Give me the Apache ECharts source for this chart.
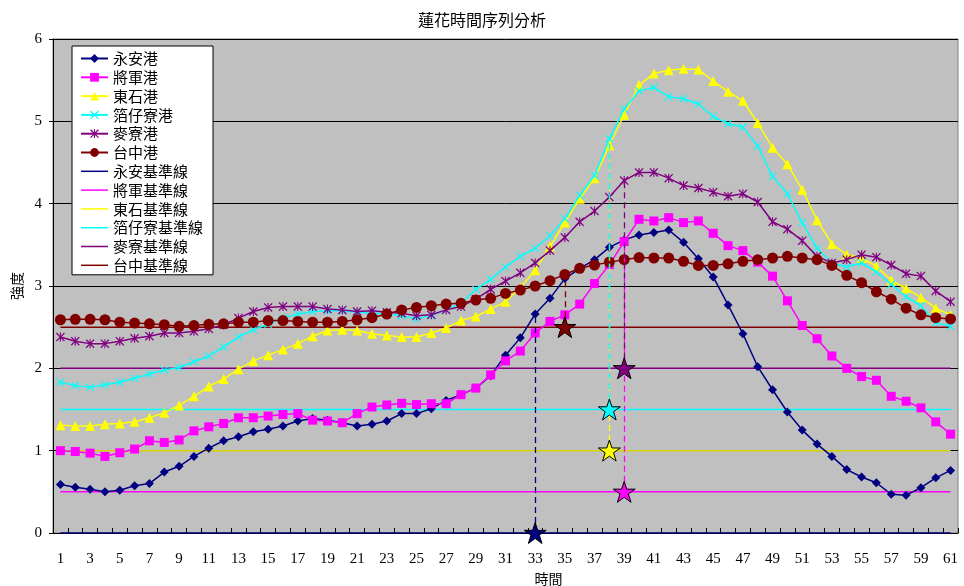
<!DOCTYPE html>
<html>
<head>
<meta charset="utf-8">
<script src="https://cdn.jsdelivr.net/npm/echarts@6/dist/echarts.min.js"></script>
<style>
  html, body { margin: 0; padding: 0; background: #fff; }
  #chart { width: 964px; height: 586px; }
</style>
</head>
<body>
<div id="chart"></div>
<script>
// Time points 1..61
var categories = ['1','2','3','4','5','6','7','8','9','10','11','12','13','14','15','16','17','18','19','20',
  '21','22','23','24','25','26','27','28','29','30','31','32','33','34','35','36','37','38','39','40',
  '41','42','43','44','45','46','47','48','49','50','51','52','53','54','55','56','57','58','59','60','61'];

// Intensity per harbour
var yongan = [0.59,0.555,0.53,0.50,0.52,0.575,0.60,0.74,0.81,0.93,
  1.03,1.12,1.17,1.23,1.26,1.30,1.36,1.39,1.37,1.34,
  1.30,1.32,1.36,1.45,1.45,1.51,1.61,1.68,1.76,1.91,
  2.16,2.37,2.66,2.85,3.09,3.21,3.32,3.47,3.56,3.62,
  3.65,3.68,3.53,3.33,3.11,2.77,2.42,2.02,1.74,1.47,
  1.25,1.08,0.93,0.77,0.68,0.61,0.47,0.46,0.55,0.67,
  0.76];
var jiangjun = [1.00,0.99,0.97,0.93,0.975,1.02,1.12,1.10,1.13,1.24,
  1.29,1.33,1.40,1.40,1.42,1.44,1.45,1.37,1.36,1.34,
  1.45,1.53,1.555,1.575,1.56,1.57,1.57,1.68,1.76,1.92,
  2.09,2.21,2.43,2.57,2.65,2.78,3.03,3.26,3.54,3.81,
  3.79,3.83,3.77,3.79,3.64,3.49,3.43,3.29,3.12,2.82,
  2.52,2.36,2.15,2.00,1.90,1.855,1.66,1.60,1.52,1.35,
  1.20];
var dongshi = [1.31,1.30,1.30,1.32,1.33,1.35,1.40,1.46,1.55,1.66,
  1.78,1.87,1.99,2.09,2.16,2.23,2.30,2.39,2.46,2.47,
  2.46,2.42,2.40,2.38,2.38,2.43,2.49,2.58,2.63,2.72,
  2.81,2.98,3.19,3.48,3.77,4.06,4.31,4.71,5.08,5.44,
  5.58,5.62,5.64,5.63,5.49,5.36,5.25,4.98,4.68,4.48,
  4.17,3.80,3.51,3.38,3.34,3.24,3.07,2.97,2.86,2.73,
  2.65];
var beizailiao = [1.83,1.79,1.77,1.80,1.83,1.88,1.93,1.98,2.01,2.08,
  2.15,2.26,2.38,2.47,2.535,2.61,2.66,2.69,2.70,2.70,
  2.68,2.67,2.66,2.64,2.60,2.64,2.71,2.79,2.96,3.08,
  3.23,3.36,3.46,3.61,3.82,4.10,4.34,4.79,5.15,5.37,
  5.41,5.30,5.275,5.21,5.06,4.97,4.93,4.70,4.33,4.12,
  3.77,3.46,3.28,3.23,3.28,3.17,3.02,2.87,2.76,2.555,
  2.51];
var mailiao = [2.38,2.33,2.30,2.30,2.33,2.365,2.39,2.43,2.43,2.45,
  2.48,2.53,2.61,2.69,2.74,2.75,2.75,2.75,2.72,2.71,
  2.69,2.70,2.68,2.67,2.64,2.65,2.71,2.75,2.84,2.96,
  3.06,3.16,3.28,3.43,3.59,3.78,3.91,4.08,4.28,4.38,
  4.38,4.31,4.22,4.19,4.14,4.09,4.12,4.02,3.78,3.69,
  3.55,3.36,3.28,3.32,3.38,3.35,3.255,3.15,3.12,2.94,
  2.81];
var taichung = [2.59,2.595,2.595,2.59,2.56,2.55,2.54,2.53,2.51,2.52,
  2.535,2.54,2.56,2.56,2.58,2.58,2.57,2.56,2.56,2.57,
  2.59,2.615,2.66,2.71,2.74,2.76,2.78,2.79,2.83,2.85,
  2.91,2.95,3.00,3.065,3.14,3.215,3.255,3.29,3.32,3.345,
  3.34,3.34,3.30,3.25,3.25,3.27,3.30,3.32,3.34,3.36,
  3.34,3.32,3.25,3.13,3.04,2.93,2.84,2.73,2.65,2.615,
  2.60];

var portNames = ['永安港','將軍港','東石港','箔仔寮港','麥寮港','台中港'];
var baseNames = ['永安基準線','將軍基準線','東石基準線','箔仔寮基準線','麥寮基準線','台中基準線'];
var baseValues = [0, 0.5, 1.0, 1.5, 2.0, 2.5];
// time point where each harbour is marked with a star
var markAt = ['33', '39', '38', '38', '39', '35'];

var portData = [yongan, jiangjun, dongshi, beizailiao, mailiao, taichung];
var colors = ['#000080', '#ff00ff', '#ffff00', '#00ffff', '#800080', '#800000'];
var baseLineColors = ['#000080', '#ff00ff', '#d4d400', '#00ffff', '#800080', '#800000'];

var symX = 'path://M0,1L1,0L5,4L9,0L10,1L6,5L10,9L9,10L5,6L1,10L0,9L4,5Z';
var symAst = 'path://M0,1L1,0L5,4L9,0L10,1L6,5L10,9L9,10L5,6L1,10L0,9L4,5Z M4.4,0H5.6V10H4.4Z';
var symStar = 'path://M50,0L61.8,35.4L100,35.4L69.1,57.3L80.9,95.1L50,72.4L19.1,95.1L30.9,57.3L0,35.4L38.2,35.4Z';
var symbols = ['diamond', 'rect', 'triangle', symX, symAst, 'circle'];
var symbolSizes = [9, 9, 10, 8, 9, 11];

var series = [];
portNames.forEach(function (name, i) {
  series.push({
    name: name,
    type: 'line',
    data: portData[i],
    symbol: symbols[i],
    symbolSize: symbolSizes[i],
    showAllSymbol: true,
    lineStyle: { color: colors[i], width: 1.5 },
    itemStyle: { color: colors[i], borderWidth: 0 },
    z: 3 + i * 0.01
  });
});
baseNames.forEach(function (name, i) {
  var x = markAt[i];
  var idx = categories.indexOf(x);
  series.push({
    name: name,
    type: 'line',
    data: [[categories[0], baseValues[i]], [categories[categories.length - 1], baseValues[i]]],
    symbol: 'none',
    lineStyle: { color: baseLineColors[i], width: 1.5 },
    itemStyle: { color: colors[i] },
    z: 2,
    markLine: {
      silent: true,
      symbol: 'none',
      label: { show: false },
      lineStyle: { color: colors[i], type: [6, 4], width: 1.3 },
      data: [[{ coord: [x, baseValues[i]] }, { coord: [x, portData[i][idx]] }]],
      z: 4
    },
    markPoint: {
      silent: true,
      symbol: symStar,
      symbolSize: 22,
      symbolKeepAspect: true,
      label: { show: false },
      itemStyle: { color: colors[i], borderColor: '#000', borderWidth: 1 },
      data: [{ coord: [x, baseValues[i]] }],
      z: 6
    }
  });
});

// Legend entries: harbour series show their marker, baselines show only a line
var legendData = portNames.map(function (n) { return { name: n }; })
  .concat(baseNames.map(function (n, i) {
    return { name: n, itemStyle: { opacity: 0 }, lineStyle: { color: colors[i], width: 1.5 } };
  }));

var chart = echarts.init(document.getElementById('chart'), null, { renderer: 'canvas' });
chart.setOption({
  animation: false,
  backgroundColor: '#ffffff',
  title: {
    text: '蓮花時間序列分析',
    left: 'center',
    top: 7,
    textStyle: { fontFamily: 'Noto Sans CJK TC', fontSize: 16, fontWeight: 'normal', color: '#000' }
  },
  legend: {
    orient: 'vertical',
    left: 72,
    top: 46,
    data: legendData,
    backgroundColor: '#ffffff',
    borderColor: '#000',
    borderWidth: 1,
    borderRadius: 0,
    padding: [5, 10, 2, 8],
    itemWidth: 27,
    itemHeight: 11,
    itemGap: 3.8,
    itemStyle: { borderWidth: 0 },
    textStyle: { fontFamily: 'Noto Sans CJK TC', fontSize: 15, lineHeight: 15, color: '#000' }
  },
  grid: {
    left: 53,
    right: 6,
    top: 39,
    bottom: 53,
    outerBoundsMode: 'none',
    containLabel: false,
    show: true,
    backgroundColor: '#c0c0c0',
    borderColor: '#808080',
    borderWidth: 1
  },
  xAxis: {
    type: 'category',
    data: categories,
    boundaryGap: true,
    name: '時間',
    nameLocation: 'middle',
    nameGap: 35,
    nameTextStyle: { fontFamily: 'Noto Sans CJK TC', fontSize: 14, color: '#000', padding: [0, 0, 0, 86] },
    axisLine: { lineStyle: { color: '#000', width: 1 } },
    axisTick: { show: true, inside: true, length: 5, interval: 0, lineStyle: { color: '#000' } },
    axisLabel: { interval: 1, margin: 19, fontFamily: 'Liberation Serif', fontSize: 15, color: '#000' },
    splitLine: { show: false }
  },
  yAxis: {
    type: 'value',
    min: 0,
    max: 6,
    interval: 1,
    name: '強度',
    nameLocation: 'middle',
    nameGap: 29,
    nameTextStyle: { fontFamily: 'Noto Sans CJK TC', fontSize: 14, color: '#000' },
    axisLine: { show: true, lineStyle: { color: '#000', width: 1 } },
    axisTick: { show: true, length: 4, lineStyle: { color: '#000' } },
    axisLabel: { margin: 11, fontFamily: 'Liberation Serif', fontSize: 15, color: '#000' },
    splitLine: { show: true, lineStyle: { color: '#000', width: 1 } }
  },
  series: series
});
</script>
</body>
</html>
